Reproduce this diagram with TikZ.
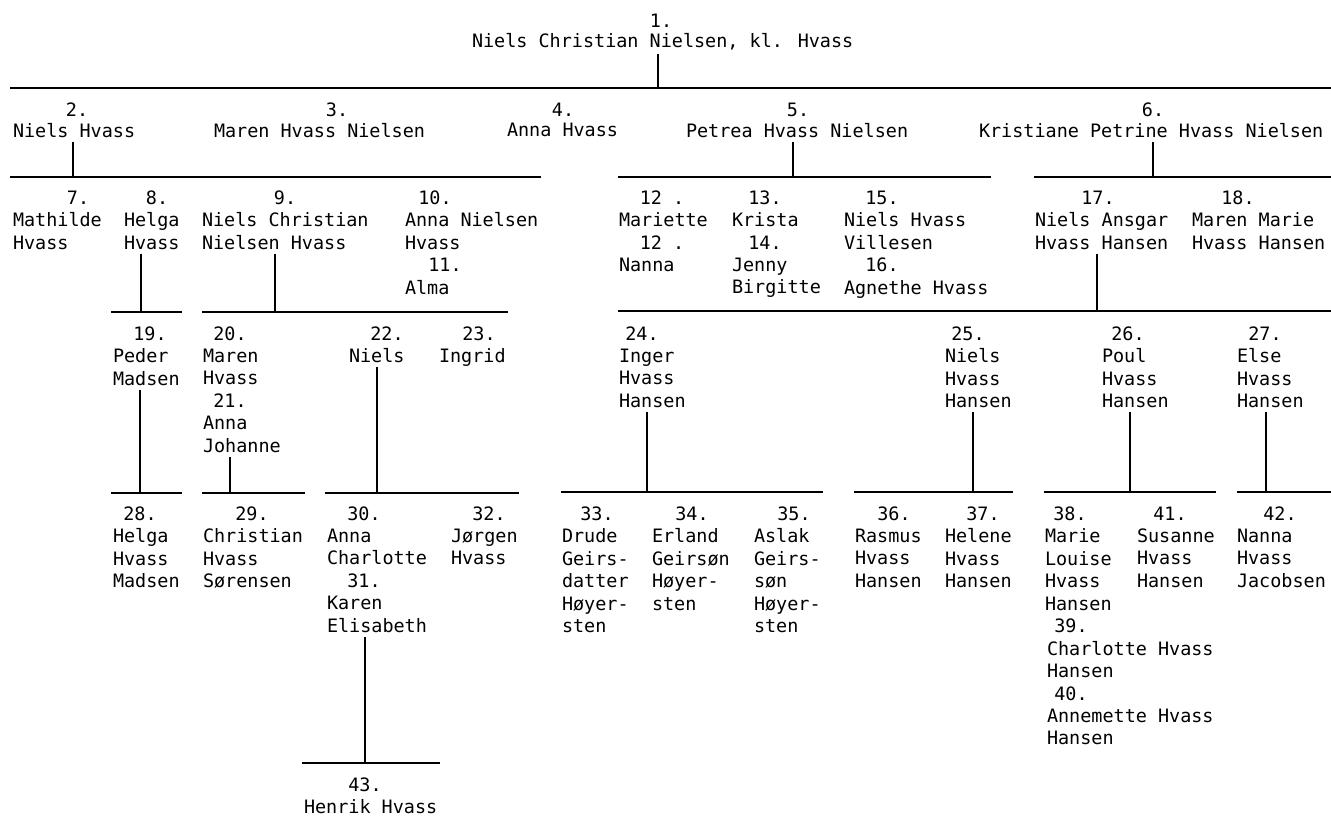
\documentclass[tikz,border=0pt]{standalone}
\usepackage{fontspec}
\newfontfamily\chartfont{DejaVu Sans Mono}
\newcommand{\chartsize}{\chartfont\fontsize{10.5}{12.8}\selectfont}
\tikzset{
  person/.style={anchor=north west, yshift=7.9pt, align=left, inner sep=0pt, outer sep=0pt, font=\chartsize},
  nr/.style={anchor=base, inner sep=0pt, outer sep=0pt, font=\chartsize},
  rule/.style={line width=1pt},
  drop/.style={line width=1pt, shorten <=2.5pt},
}
\begin{document}
\begin{tikzpicture}[x=0.02cm,y=-0.02cm]
\useasboundingbox (0,0) rectangle (1331,816);

% Marking person 1
\node[nr] (n1) at (661,27) {1.};
\node[person] (p1) at (472,47) {Niels Christian Nielsen, kl. Hvass};

% Drawing line 1 to children
\coordinate (r1w) at (10,88);
\coordinate (r1e) at (1331,88);
\coordinate (j1) at (658,88);
\draw[rule] (r1w) -- (r1e);
\draw[drop] (p1.south -| j1) -- (j1);

% Marking persons 2 - 6
\node[nr] (n2) at (77,116) {2.};
\node[person] (p2) at (13,137) {Niels Hvass};
\node[nr] (n3) at (337,116) {3.};
\node[person] (p3) at (214,137) {Maren Hvass Nielsen};
\node[nr] (n4) at (563,116) {4.};
\node[person] (p4) at (507,137) {Anna Hvass};
\node[nr] (n5) at (798,116) {5.};
\node[person] (p5) at (686,137) {Petrea Hvass Nielsen};
\node[nr] (n6) at (1153,116) {6.};
\node[person] (p6) at (979,137) {Kristiane Petrine Hvass Nielsen};

% Drawing lines 2, 5, 6 to children
\coordinate (r2aw) at (10,177);
\coordinate (r2ae) at (541,177);
\coordinate (j2) at (73,177);
\draw[rule] (r2aw) -- (r2ae);
\draw[drop] (p2.south -| j2) -- (j2);
\coordinate (r2bw) at (618,177);
\coordinate (r2be) at (991,177);
\coordinate (j5) at (793,177);
\draw[rule] (r2bw) -- (r2be);
\draw[drop] (p5.south -| j5) -- (j5);
\coordinate (r2cw) at (1034,177);
\coordinate (r2ce) at (1331,177);
\coordinate (j6) at (1153,177);
\draw[rule] (r2cw) -- (r2ce);
\draw[drop] (p6.south -| j6) -- (j6);

% Marking persons 7 - 18
\node[nr] (n7) at (78,204) {7.};
\node[person] (p7) at (13,226.5) {Mathilde\\Hvass};
\node[nr] (n8) at (157,204) {8.};
\node[person] (p8) at (124,226.5) {Helga\\Hvass};
\node[nr] (n9) at (285,204) {9.};
\node[person] (p9) at (202,226.5) {Niels Christian\\Nielsen Hvass};
\node[nr] (n10) at (435,204) {10.};
\node[person] (p10) at (405,226.5) {Anna Nielsen\\Hvass};
\node[nr] (n11) at (445,271.5) {11.};
\node[person] (p11) at (405,294) {Alma};
\node[nr] (n12) at (662,204) {12 .};
\node[person] (p12) at (619,226.5) {Mariette};
\node[nr] (n12b) at (662,249) {12 .};
\node[person] (p12b) at (619,271.5) {Nanna};
\node[nr] (n13) at (765,204) {13.};
\node[person] (p13) at (732,226.5) {Krista};
\node[nr] (n14) at (765,249) {14.};
\node[person] (p14) at (732,271.5) {Jenny\\Birgitte};
\node[nr] (n15) at (882,204) {15.};
\node[person] (p15) at (844,226.5) {Niels Hvass\\Villesen};
\node[nr] (n16) at (882,271.5) {16.};
\node[person] (p16) at (844,294) {Agnethe Hvass};
\node[nr] (n17) at (1098,204) {17.};
\node[person] (p17) at (1035,226.5) {Niels Ansgar\\Hvass Hansen};
\node[nr] (n18) at (1238,204) {18.};
\node[person] (p18) at (1192,226.5) {Maren Marie\\Hvass Hansen};

% Drawing lines 8, 9, 17 to children
\coordinate (r3aw) at (111,312);
\coordinate (r3ae) at (182,312);
\coordinate (j8) at (141,312);
\draw[rule] (r3aw) -- (r3ae);
\draw[drop] (p8.south -| j8) -- (j8);
\coordinate (r3bw) at (202,312);
\coordinate (r3be) at (508,312);
\coordinate (j9) at (275,312);
\draw[rule] (r3bw) -- (r3be);
\draw[drop] (p9.south -| j9) -- (j9);
\coordinate (r3cw) at (618,311);
\coordinate (r3ce) at (1331,311);
\coordinate (j17) at (1097,311);
\draw[rule] (r3cw) -- (r3ce);
\draw[drop] (p17.south -| j17) -- (j17);

% Marking persons 19 - 27
\node[nr] (n19) at (150,340) {19.};
\node[person] (p19) at (113,362.5) {Peder\\Madsen};
\node[nr] (n20) at (230,340) {20.};
\node[person] (p20) at (203,362.5) {Maren\\Hvass};
\node[nr] (n21) at (230,407.5) {21.};
\node[person] (p21) at (203,430) {Anna\\Johanne};
\node[nr] (n22) at (387,340) {22.};
\node[person] (p22) at (349,362.5) {Niels};
\node[nr] (n23) at (479,340) {23.};
\node[person] (p23) at (439,362.5) {Ingrid};
\node[nr] (n24) at (642,340) {24.};
\node[person] (p24) at (619,362.5) {Inger\\Hvass\\Hansen};
\node[nr] (n25) at (968,340) {25.};
\node[person] (p25) at (945,362.5) {Niels\\Hvass\\Hansen};
\node[nr] (n26) at (1128,340) {26.};
\node[person] (p26) at (1102,362.5) {Poul\\Hvass\\Hansen};
\node[nr] (n27) at (1265,340) {27.};
\node[person] (p27) at (1237,362.5) {Else\\Hvass\\Hansen};

% Drawing lines 19, 21, 22, 24 - 27 to children
\coordinate (r4aw) at (111,493);
\coordinate (r4ae) at (182,493);
\coordinate (j19) at (140,493);
\draw[rule] (r4aw) -- (r4ae);
\draw[drop] (p19.south -| j19) -- (j19);
\coordinate (r4bw) at (202,493);
\coordinate (r4be) at (305,493);
\coordinate (j21) at (230,493);
\draw[rule] (r4bw) -- (r4be);
\draw[drop] (p21.south -| j21) -- (j21);
\coordinate (r4cw) at (325,493);
\coordinate (r4ce) at (519,493);
\coordinate (j22) at (377,493);
\draw[rule] (r4cw) -- (r4ce);
\draw[drop] (p22.south -| j22) -- (j22);
\coordinate (r4dw) at (561,492);
\coordinate (r4de) at (823,492);
\coordinate (j24) at (647,492);
\draw[rule] (r4dw) -- (r4de);
\draw[drop] (p24.south -| j24) -- (j24);
\coordinate (r4ew) at (854,492);
\coordinate (r4ee) at (1013,492);
\coordinate (j25) at (973,492);
\draw[rule] (r4ew) -- (r4ee);
\draw[drop] (p25.south -| j25) -- (j25);
\coordinate (r4fw) at (1044,492);
\coordinate (r4fe) at (1216,492);
\coordinate (j26) at (1130,492);
\draw[rule] (r4fw) -- (r4fe);
\draw[drop] (p26.south -| j26) -- (j26);
\coordinate (r4gw) at (1237,492);
\coordinate (r4ge) at (1331,492);
\coordinate (j27) at (1266,492);
\draw[rule] (r4gw) -- (r4ge);
\draw[drop] (p27.south -| j27) -- (j27);

% Marking persons 28 - 42
\node[nr] (n28) at (140,520) {28.};
\node[person] (p28) at (113,542.5) {Helga\\Hvass\\Madsen};
\node[nr] (n29) at (252,520) {29.};
\node[person] (p29) at (203,542.5) {Christian\\Hvass\\Sørensen};
\node[nr] (n30) at (364,520) {30.};
\node[person] (p30) at (327,542.5) {Anna\\Charlotte};
\node[nr] (n31) at (364,587.5) {31.};
\node[person] (p31) at (327,610) {Karen\\Elisabeth};
\node[nr] (n32) at (489,520) {32.};
\node[person] (p32) at (451,542.5) {Jørgen\\Hvass};
\node[nr] (n33) at (597,520) {33.};
\node[person] (p33) at (562,542.5) {Drude\\Geirs-\\datter\\Høyer-\\sten};
\node[nr] (n34) at (692,520) {34.};
\node[person] (p34) at (652,542.5) {Erland\\Geirsøn\\Høyer-\\sten};
\node[nr] (n35) at (794,520) {35.};
\node[person] (p35) at (754,542.5) {Aslak\\Geirs-\\søn\\Høyer-\\sten};
\node[nr] (n36) at (894,520) {36.};
\node[person] (p36) at (855,542.5) {Rasmus\\Hvass\\Hansen};
\node[nr] (n37) at (983,520) {37.};
\node[person] (p37) at (945,542.5) {Helene\\Hvass\\Hansen};
\node[nr] (n38) at (1070,520) {38.};
\node[person] (p38) at (1045,542.5) {Marie\\Louise\\Hvass\\Hansen};
\node[nr] (n39) at (1071,632.5) {39.};
\node[person] (p39) at (1047,655) {Charlotte Hvass\\Hansen};
\node[nr] (n40) at (1071,700) {40.};
\node[person] (p40) at (1047,722.5) {Annemette Hvass\\Hansen};
\node[nr] (n41) at (1170,520) {41.};
\node[person] (p41) at (1137,542.5) {Susanne\\Hvass\\Hansen};
\node[nr] (n42) at (1280,520) {42.};
\node[person] (p42) at (1237,542.5) {Nanna\\Hvass\\Jacobsen};

% Drawing line 31 to child
\coordinate (r5w) at (302,763);
\coordinate (r5e) at (440,763);
\coordinate (j31) at (365,763);
\draw[rule] (r5w) -- (r5e);
\draw[drop] (p31.south -| j31) -- (j31);

% Marking person 43
\node[nr] (n43) at (365,791) {43.};
\node[person] (p43) at (304,813) {Henrik Hvass};
\end{tikzpicture}
\end{document}
